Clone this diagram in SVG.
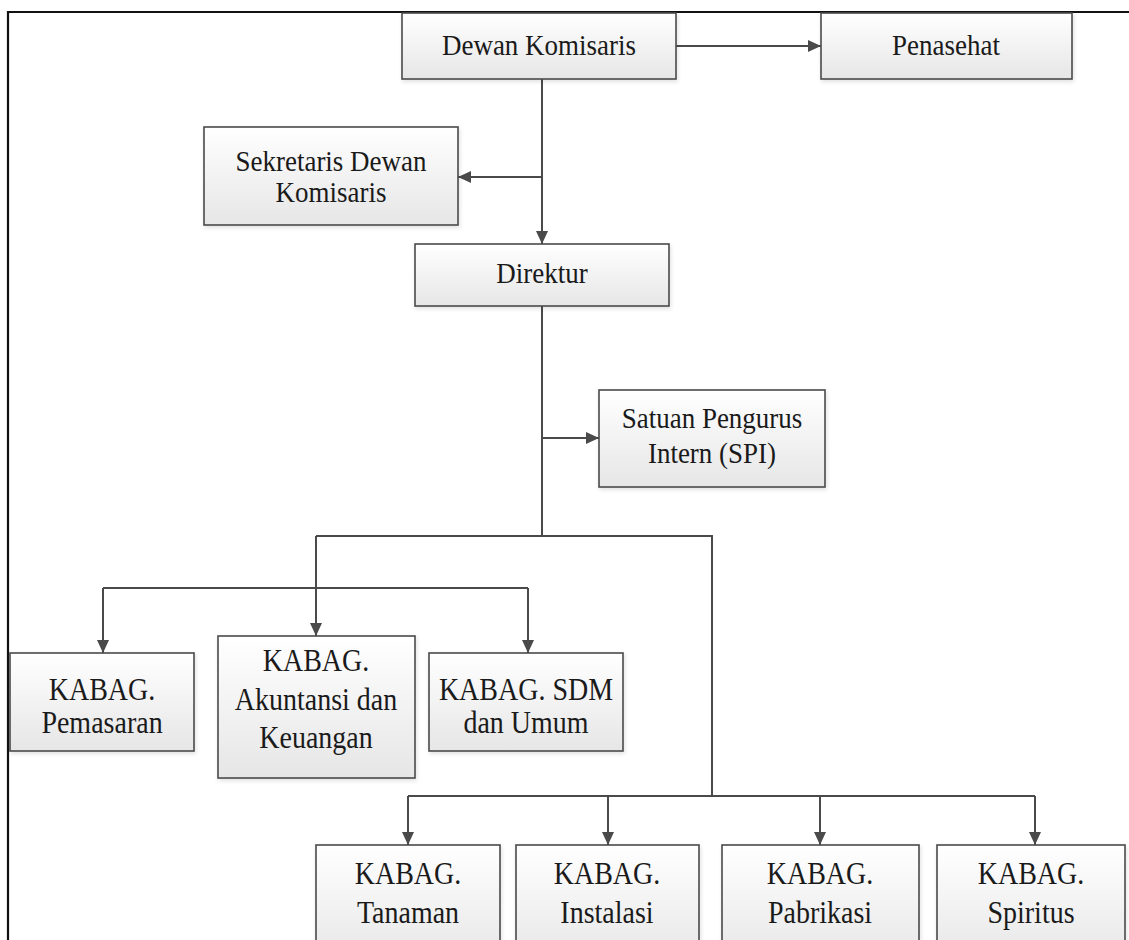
<svg xmlns="http://www.w3.org/2000/svg" width="1129" height="940" viewBox="0 0 1129 940">
  <style>
    .box { fill: url(#boxFill); stroke: #4a4a4a; stroke-width: 1.6; filter: url(#soft); }
    .lbl { font-family: "Liberation Serif", "Times New Roman", serif; font-size: 27px; fill: #1a1a1a; text-anchor: middle; }
    .kb { font-size: 28px; }
    .wire { fill: none; stroke: #4a4a4a; stroke-width: 2; }
    .arr { marker-end: url(#head); }
  </style>
  <defs>
    <linearGradient id="boxFill" x1="0" y1="0" x2="0" y2="1">
      <stop offset="0" stop-color="#ffffff"/>
      <stop offset="1" stop-color="#e6e6e6"/>
    </linearGradient>
    <filter id="soft" x="-10%" y="-10%" width="130%" height="140%">
      <feDropShadow dx="1" dy="2" stdDeviation="2" flood-color="#000" flood-opacity="0.12"/>
    </filter>
    <marker id="head" markerUnits="userSpaceOnUse" markerWidth="14" markerHeight="12" refX="13" refY="6" orient="auto">
      <path d="M0,0 L13,6 L0,12 Z" fill="#4a4a4a"/>
    </marker>
  </defs>

  <rect width="1129" height="940" fill="#ffffff"/>

  <!-- page frame -->
  <path d="M8,940 V12 H1129" fill="none" stroke="#111" stroke-width="2.2"/>

  <!-- connectors -->
  <g id="connectors">
    <path class="wire arr" d="M676,46 H821"/>
    <path class="wire arr" d="M542,79 V244"/>
    <path class="wire arr" d="M542,177 H458"/>
    <path class="wire" d="M542,306 V536"/>
    <path class="wire arr" d="M542,438 H599"/>
    <path class="wire" d="M316,536 H712 V796"/>
    <path class="wire arr" d="M316,536 V636"/>
    <path class="wire" d="M103,588 H528"/>
    <path class="wire arr" d="M103,588 V653"/>
    <path class="wire arr" d="M528,588 V653"/>
    <path class="wire" d="M408,796 H1035"/>
    <path class="wire arr" d="M408,796 V845"/>
    <path class="wire arr" d="M608,796 V845"/>
    <path class="wire arr" d="M820,796 V845"/>
    <path class="wire arr" d="M1035,796 V845"/>
  </g>

  <!-- labels are drawn slightly tall: translate to the baseline, then stretch vertically -->
  <g id="dewan-komisaris">
    <rect class="box" x="402" y="13" width="274" height="66"/>
    <text class="lbl" transform="translate(539,55) scale(1,1.12)">Dewan Komisaris</text>
  </g>

  <g id="penasehat">
    <rect class="box" x="821" y="13" width="251" height="66"/>
    <text class="lbl" transform="translate(946,55) scale(1,1.12)">Penasehat</text>
  </g>

  <g id="sekretaris">
    <rect class="box" x="204" y="127" width="254" height="98"/>
    <text class="lbl" transform="translate(331,171) scale(1,1.12)">Sekretaris Dewan</text>
    <text class="lbl" transform="translate(331,202) scale(1,1.12)">Komisaris</text>
  </g>

  <g id="direktur">
    <rect class="box" x="415" y="244" width="254" height="62"/>
    <text class="lbl" transform="translate(542,283) scale(1,1.12)">Direktur</text>
  </g>

  <g id="spi">
    <rect class="box" x="599" y="390" width="226" height="97"/>
    <text class="lbl" transform="translate(712,428) scale(1,1.12)">Satuan Pengurus</text>
    <text class="lbl" transform="translate(712,463) scale(1,1.12)">Intern (SPI)</text>
  </g>

  <g id="kabag-pemasaran">
    <rect class="box" x="10" y="653" width="184" height="98"/>
    <text class="lbl kb" transform="translate(102,700) scale(1,1.12)">KABAG.</text>
    <text class="lbl kb" transform="translate(102,733) scale(1,1.12)">Pemasaran</text>
  </g>

  <g id="kabag-akuntansi">
    <rect class="box" x="218" y="636" width="197" height="142"/>
    <text class="lbl kb" transform="translate(316,671) scale(1,1.12)">KABAG.</text>
    <text class="lbl kb" transform="translate(316,710) scale(1,1.12)">Akuntansi dan</text>
    <text class="lbl kb" transform="translate(316,748) scale(1,1.12)">Keuangan</text>
  </g>

  <g id="kabag-sdm">
    <rect class="box" x="429" y="653" width="194" height="98"/>
    <text class="lbl kb" transform="translate(526,700) scale(1,1.12)">KABAG. SDM</text>
    <text class="lbl kb" transform="translate(526,733) scale(1,1.12)">dan Umum</text>
  </g>

  <g id="kabag-tanaman">
    <rect class="box" x="316" y="845" width="184" height="120"/>
    <text class="lbl kb" transform="translate(408,884) scale(1,1.12)">KABAG.</text>
    <text class="lbl kb" transform="translate(408,923) scale(1,1.12)">Tanaman</text>
  </g>

  <g id="kabag-instalasi">
    <rect class="box" x="516" y="845" width="183" height="120"/>
    <text class="lbl kb" transform="translate(607,884) scale(1,1.12)">KABAG.</text>
    <text class="lbl kb" transform="translate(607,923) scale(1,1.12)">Instalasi</text>
  </g>

  <g id="kabag-pabrikasi">
    <rect class="box" x="722" y="845" width="197" height="120"/>
    <text class="lbl kb" transform="translate(820,884) scale(1,1.12)">KABAG.</text>
    <text class="lbl kb" transform="translate(820,923) scale(1,1.12)">Pabrikasi</text>
  </g>

  <g id="kabag-spiritus">
    <rect class="box" x="937" y="845" width="188" height="120"/>
    <text class="lbl kb" transform="translate(1031,884) scale(1,1.12)">KABAG.</text>
    <text class="lbl kb" transform="translate(1031,923) scale(1,1.12)">Spiritus</text>
  </g>
</svg>
